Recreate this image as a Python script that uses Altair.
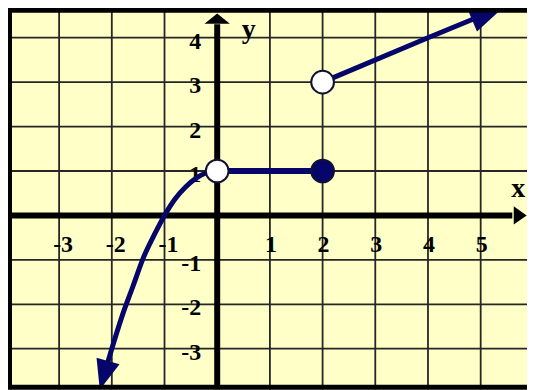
import altair as alt
import pandas as pd

# ---- data ----
grid_x = [-3, -2, -1, 1, 2, 3, 4, 5]
grid_y = [-3, -2, -1, 1, 2, 3, 4]
x_labels_neg = [-3, -2, -1]
x_labels_pos = [1, 2, 3, 4, 5]
y_labels = [4, 3, 2, 1, -1, -2, -3]

# left piece (curve), ending in an arrow at the bottom
curve_x = [-2.15, -2.0, -1.8, -1.6, -1.4, -1.2, -1.0, -0.8, -0.6, -0.4, -0.2, 0.0]
curve_y = [-3.6, -3.0, -2.25, -1.6, -0.95, -0.45, 0.0, 0.37, 0.64, 0.84, 0.96, 1.0]
# middle piece (flat segment)
seg_x = [0, 2]
seg_y = [1, 1]
# right piece (ray through (4, 4))
ray_x = [2, 4, 5.15]
ray_y = [3, 4, 4.56]
# endpoints
open_x = [0, 2]
open_y = [1, 3]
closed_x = [2]
closed_y = [1]

# plot geometry
W, H = 521, 382
XMIN, XMAX = -3.970, 5.879
YMIN, YMAX = -3.913, 4.652

NAVY = "#05056a"
xs = alt.Scale(domain=[XMIN, XMAX], nice=False, zero=False)
ys = alt.Scale(domain=[YMIN, YMAX], nice=False, zero=False)

def X(f="x"):
    return alt.X(f"{f}:Q", scale=xs, axis=None)

def Y(f="y"):
    return alt.Y(f"{f}:Q", scale=ys, axis=None)

grid_v = alt.Chart(pd.DataFrame({"x": grid_x})).mark_rule(
    color="#262626", strokeWidth=1.8).encode(x=X())
grid_h = alt.Chart(pd.DataFrame({"y": grid_y})).mark_rule(
    color="#262626", strokeWidth=1.8).encode(y=Y())

# axes
yaxis = alt.Chart(pd.DataFrame({"x": [0], "y": [YMIN], "y2": [4.3]})).mark_rule(
    color="black", strokeWidth=6).encode(x=X(), y=Y(), y2="y2:Q")
xaxis = alt.Chart(pd.DataFrame({"y": [0], "x": [XMIN], "x2": [5.6]})).mark_rule(
    color="black", strokeWidth=6).encode(y=Y(), x=X(), x2="x2:Q")
yarrow = alt.Chart(pd.DataFrame({"x": [0], "y": [4.43]})).mark_point(
    shape="M-1,0.4L0,-0.4L1,0.4Z", filled=True, opacity=1, color="black",
    size=650).encode(x=X(), y=Y())
xarrow = alt.Chart(pd.DataFrame({"x": [5.75], "y": [0]})).mark_point(
    shape="M-0.5,-0.7L0.5,0L-0.5,0.7Z", filled=True, opacity=1, color="black",
    size=676).encode(x=X(), y=Y())

# tick labels
font = dict(font="Liberation Serif", fontWeight="bold", fontSize=24, color="black",
            baseline="alphabetic")
xl_neg = alt.Chart(pd.DataFrame({"x": x_labels_neg, "y": [0] * 3,
                                 "t": [f"-{abs(v)}" for v in x_labels_neg]})).mark_text(
    align="right", dx=14, dy=37, **font).encode(x=X(), y=Y(), text="t:N")
xl_pos = alt.Chart(pd.DataFrame({"x": x_labels_pos, "y": [0] * 5,
                                 "t": [str(v) for v in x_labels_pos]})).mark_text(
    align="center", dx=1, dy=37, **font).encode(x=X(), y=Y(), text="t:N")
yl = alt.Chart(pd.DataFrame({"x": [0] * len(y_labels), "y": y_labels,
                             "t": [str(v) if v > 0 else f"-{abs(v)}" for v in y_labels]})).mark_text(
    align="right", dx=-16, dy=11, **font).encode(x=X(), y=Y(), text="t:N")
titles = alt.Chart(pd.DataFrame({"x": [5.71, 0.6], "y": [0.42, 4.0], "t": ["x", "y"]})).mark_text(
    align="center", font="Liberation Serif", fontWeight="bold", fontSize=28,
    color="black", baseline="alphabetic").encode(x=X(), y=Y(), text="t:N")

# function pieces
curve = alt.Chart(pd.DataFrame({"x": curve_x, "y": curve_y, "o": range(len(curve_x))})).mark_line(
    color=NAVY, strokeWidth=5, interpolate="monotone", clip=True).encode(
    x=X(), y=Y(), order="o:Q")
seg = alt.Chart(pd.DataFrame({"x": seg_x, "y": seg_y})).mark_line(
    color=NAVY, strokeWidth=6).encode(x=X(), y=Y())
ray = alt.Chart(pd.DataFrame({"x": ray_x, "y": ray_y})).mark_line(
    color=NAVY, strokeWidth=5, clip=True).encode(x=X(), y=Y())

arrow_down = alt.Chart(pd.DataFrame({"x": [curve_x[0]], "y": [curve_y[0]]})).mark_point(
    shape="M-0.8,-1L0.8,-1L0,1Z", filled=True, opacity=1, color=NAVY, size=900,
    angle=16, clip=True).encode(x=X(), y=Y())
arrow_up = alt.Chart(pd.DataFrame({"x": [ray_x[-1]], "y": [ray_y[-1]]})).mark_point(
    shape="M-1,-0.7L1,0L-1,0.7Z", filled=True, opacity=1, color=NAVY, size=1296,
    angle=337, clip=True).encode(x=X(), y=Y())

open_pts = alt.Chart(pd.DataFrame({"x": open_x, "y": open_y})).mark_point(
    shape="circle", filled=True, fill="white", stroke="#111133", strokeWidth=2,
    opacity=1, size=520).encode(x=X(), y=Y())
closed_pts = alt.Chart(pd.DataFrame({"x": closed_x, "y": closed_y})).mark_point(
    shape="circle", filled=True, fill=NAVY, stroke="#111133", strokeWidth=2,
    opacity=1, size=520).encode(x=X(), y=Y())

# frame (left, top, bottom)
frame_l = alt.Chart(pd.DataFrame({"a": [0]})).mark_rule(color="black", strokeWidth=5).encode(
    x=alt.value(1.5), y=alt.value(0), y2=alt.value(H))
frame_t = alt.Chart(pd.DataFrame({"a": [0]})).mark_rule(color="black", strokeWidth=5).encode(
    y=alt.value(1.5), x=alt.value(0), x2=alt.value(W))
frame_b = alt.Chart(pd.DataFrame({"a": [0]})).mark_rule(color="black", strokeWidth=5).encode(
    y=alt.value(H - 2), x=alt.value(0), x2=alt.value(W))

chart = alt.layer(
    grid_v, grid_h, xl_neg, xl_pos, yl, titles, yaxis, xaxis, yarrow, xarrow,
    curve, seg, ray, arrow_down, arrow_up, open_pts, closed_pts,
    frame_l, frame_t, frame_b,
).properties(
    width=W, height=H, padding=0, autosize="none",
).configure_view(fill="#FFFFC8", strokeWidth=0)

chart.save("out.html", embed_options={"renderer": "svg", "actions": False})
